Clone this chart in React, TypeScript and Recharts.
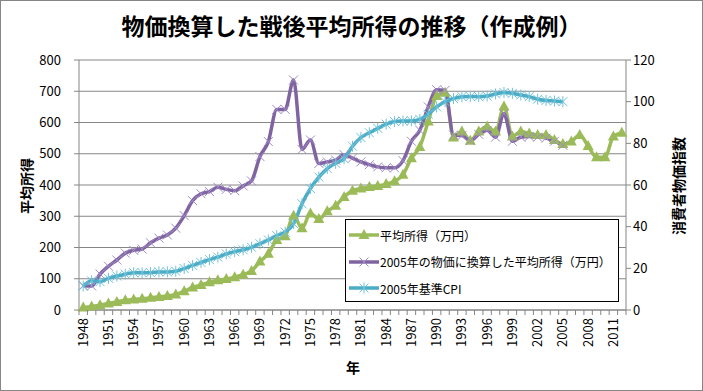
import { CartesianGrid, Line, LineChart, XAxis, YAxis } from "recharts";

const FONT = '"Noto Sans CJK JP", "Noto Sans", sans-serif';
const AXIS = "#868686";

const years = [
  "1948", "1949", "1950", "1951", "1952", "1953", "1954", "1955", "1956", "1957",
  "1958", "1959", "1960", "1961", "1962", "1963", "1964", "1965", "1966", "1967",
  "1968", "1969", "1970", "1971", "1972", "1973", "1974", "1975", "1976", "1977",
  "1978", "1979", "1980", "1981", "1982", "1983", "1984", "1985", "1986", "1987",
  "1988", "1989", "1990", "1991", "1992", "1993", "1994", "1995", "1996", "1997",
  "1998", "1999", "2000", "2001", "2002", "2003", "2004", "2005", "2006", "2007",
  "2008", "2009", "2010", "2011", "2012",
];

// 平均所得（万円）
const income = [
  8, 11, 15, 21, 26, 31, 34, 36, 39, 42,
  45, 50, 60, 72, 80, 89, 95, 99, 105, 113,
  125, 155, 180, 224, 236, 302, 262, 309, 291, 316,
  334, 362, 382, 389, 394, 397, 403, 412, 433, 486,
  522, 603, 685, 695, 552, 571, 542, 571, 587, 571,
  651, 555, 571, 565, 560, 560, 544, 531, 539, 560,
  525, 489, 489, 555, 567,
];

// 2005年の物価に換算した平均所得（万円）, 1948-2005
const realIncome = [
  78, 77, 115, 140, 160, 182, 191, 195, 215, 230,
  240, 262, 302, 350, 372, 379, 393, 386, 382, 397,
  413, 491, 539, 642, 642, 736, 514, 544, 469, 474,
  480, 497, 486, 474, 465, 458, 455, 455, 478, 540,
  575, 650, 705, 703, 560, 558, 542, 562, 575, 553,
  628, 540, 553, 555, 553, 550, 540, 527,
];

// 2005年基準CPI, 1948-2005
const cpi = [
  11.5, 14.0, 13.6, 15.2, 16.3, 17.2, 17.9, 17.9, 17.9, 18.3,
  18.3, 18.6, 19.9, 21.4, 22.8, 24.2, 25.4, 26.9, 28.0, 28.9,
  30.1, 31.8, 33.6, 35.7, 37.4, 41.5, 51.0, 58.3, 63.8, 67.9,
  70.4, 72.6, 78.6, 82.8, 85.1, 87.2, 89.2, 90.5, 90.7, 90.8,
  91.5, 94.0, 97.5, 100.0, 101.5, 102.4, 102.5, 102.4, 102.7, 103.7,
  104.4, 104.0, 103.2, 102.4, 101.2, 100.6, 100.3, 100.0,
];

const leftTicks = [0, 100, 200, 300, 400, 500, 600, 700, 800];
const rightTicks = [0, 20, 40, 60, 80, 100, 120];

const data = years.map((year, i) => ({
  year,
  income: income[i],
  real: realIncome[i] ?? null,
  cpi: cpi[i] ?? null,
}));

const PLOT_W = 547;
const HALF = PLOT_W / years.length / 2;

const GREEN = "#9BBB59";
const PURPLE = "#8064A2";
const CYAN = "#4BACC6";

function Triangle({ cx, cy }: { cx: number; cy: number }) {
  return (
    <path
      d={`M${cx},${cy - 6}L${cx + 5.5},${cy + 4}L${cx - 5.5},${cy + 4}Z`}
      fill={GREEN}
    />
  );
}

function Cross({ cx, cy }: { cx: number; cy: number }) {
  const r = 4.5;
  return (
    <g stroke="#A08CC6" strokeWidth={1}>
      <line x1={cx - r} y1={cy - r} x2={cx + r} y2={cy + r} />
      <line x1={cx - r} y1={cy + r} x2={cx + r} y2={cy - r} />
    </g>
  );
}

function Star({ cx, cy }: { cx: number; cy: number }) {
  const r = 4.5;
  return (
    <g stroke="#6FC2DA" strokeWidth={1}>
      <line x1={cx - r} y1={cy - r} x2={cx + r} y2={cy + r} />
      <line x1={cx - r} y1={cy + r} x2={cx + r} y2={cy - r} />
      <line x1={cx} y1={cy - r - 1} x2={cx} y2={cy + r + 1} />
    </g>
  );
}

const dotOf = (Shape: typeof Triangle) => (p: any) => {
  if (p.cx == null || p.cy == null || p.value == null) return <g key={p.index} />;
  return <Shape key={p.index} cx={p.cx} cy={p.cy} />;
};

function YearTick(props: any) {
  const { x, y, payload, index } = props;
  const axisY = y - 8;
  return (
    <g>
      <line x1={x - HALF} y1={axisY} x2={x - HALF} y2={axisY + 5} stroke={AXIS} />
      {index === years.length - 1 && (
        <line x1={x + HALF} y1={axisY} x2={x + HALF} y2={axisY + 5} stroke={AXIS} />
      )}
      {index % 3 === 0 && (
        <text
          x={x}
          y={y}
          dy="0.35em"
          transform={`rotate(-90 ${x} ${y})`}
          textAnchor="end"
          fontSize={13}
          fontFamily={FONT}
          fill="#000"
        >
          {payload.value}
        </text>
      )}
    </g>
  );
}

const series = [
  { key: "income", name: "平均所得（万円）", color: GREEN, Shape: Triangle },
  { key: "real", name: "2005年の物価に換算した平均所得（万円）", color: PURPLE, Shape: Cross },
  { key: "cpi", name: "2005年基準CPI", color: CYAN, Shape: Star },
];

export default function App() {
  return (
    <div
      style={{
        position: "relative",
        width: 703,
        height: 391,
        boxSizing: "border-box",
        border: `1px solid ${AXIS}`,
        background: "#fff",
        fontFamily: FONT,
      }}
    >
      <style>{"body{margin:0}"}</style>
      <div
        style={{
          position: "absolute",
          top: 7,
          left: 0,
          width: "100%",
          textAlign: "center",
          fontSize: 23,
          fontWeight: "bold",
          lineHeight: "34px",
        }}
      >
        物価換算した戦後平均所得の推移（作成例）
      </div>
      <LineChart
        width={701}
        height={389}
        data={data}
        margin={{ top: 59, right: 26, bottom: 30, left: 28 }}
      >
        <CartesianGrid vertical={false} yAxisId="left" stroke={AXIS} />
        <XAxis
          dataKey="year"
          interval={0}
          tick={<YearTick />}
          tickLine={false}
          tickSize={8}
          tickMargin={0}
          height={50}
          padding={{ left: HALF, right: HALF }}
          axisLine={{ stroke: AXIS }}
        />
        <YAxis
          yAxisId="left"
          domain={[0, 800]}
          ticks={leftTicks}
          width={50}
          tickSize={5}
          tickMargin={13}
          tickLine={{ stroke: AXIS }}
          axisLine={{ stroke: AXIS }}
          tick={{ fill: "#000", fontSize: 13, fontFamily: FONT }}
        />
        <YAxis
          yAxisId="right"
          orientation="right"
          domain={[0, 120]}
          ticks={rightTicks}
          width={50}
          tickSize={5}
          tickMargin={2}
          tickLine={{ stroke: AXIS }}
          axisLine={{ stroke: AXIS }}
          tick={{ fill: "#000", fontSize: 13, fontFamily: FONT }}
        />
        <Line
          yAxisId="left"
          type="monotone"
          dataKey="income"
          stroke={GREEN}
          strokeWidth={3.5}
          dot={dotOf(Triangle)}
          isAnimationActive={false}
        />
        <Line
          yAxisId="left"
          type="monotone"
          dataKey="real"
          stroke={PURPLE}
          strokeWidth={3.5}
          dot={dotOf(Cross)}
          isAnimationActive={false}
        />
        <Line
          yAxisId="right"
          type="monotone"
          dataKey="cpi"
          stroke={CYAN}
          strokeWidth={3.5}
          dot={dotOf(Star)}
          isAnimationActive={false}
        />
      </LineChart>
      <div
        style={{
          position: "absolute",
          left: 25,
          top: 185,
          transform: "translate(-50%, -50%) rotate(-90deg)",
          fontSize: 14,
          fontWeight: "bold",
          whiteSpace: "nowrap",
        }}
      >
        平均所得
      </div>
      <div
        style={{
          position: "absolute",
          left: 677,
          top: 185,
          transform: "translate(-50%, -50%) rotate(-90deg)",
          fontSize: 14,
          fontWeight: "bold",
          whiteSpace: "nowrap",
        }}
      >
        消費者物価指数
      </div>
      <div
        style={{
          position: "absolute",
          left: 352,
          top: 366,
          transform: "translate(-50%, -50%)",
          fontSize: 14,
          fontWeight: "bold",
        }}
      >
        年
      </div>
      <div
        style={{
          position: "absolute",
          left: 344,
          top: 218,
          width: 274,
          height: 83,
          border: "1px solid #000",
          background: "#fff",
          boxSizing: "border-box",
          paddingTop: 2,
        }}
      >
        {series.map((s) => (
          <div
            key={s.key}
            style={{ display: "flex", alignItems: "center", height: 26.5, paddingLeft: 3 }}
          >
            <svg width={30} height={14} style={{ flex: "none" }}>
              <line x1={0} y1={7} x2={30} y2={7} stroke={s.color} strokeWidth={3.5} />
              <s.Shape cx={15} cy={7} />
            </svg>
            <span style={{ fontSize: 12, marginLeft: 1, whiteSpace: "nowrap" }}>{s.name}</span>
          </div>
        ))}
      </div>
    </div>
  );
}
